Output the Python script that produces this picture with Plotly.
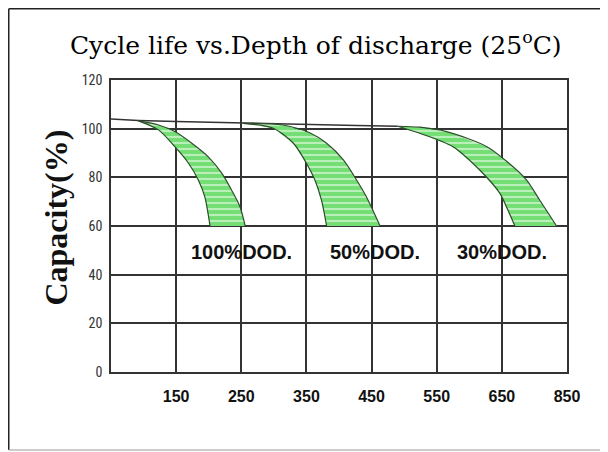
import plotly.graph_objects as go

# ---- data ----
x_tickvals = [150, 250, 350, 450, 550, 650, 750]
x_ticktext = ["150", "250", "350", "450", "550", "650", "850"]
y_tickvals = [0, 20, 40, 60, 80, 100, 120]

flat_x = [50, 92, 150, 253, 330, 427, 490]
flat_y = [104, 103.4, 102.9, 102.2, 101.8, 101.3, 101.0]

b100_outer_x = [92, 123, 148, 174, 199, 220, 235, 248, 256]
b100_outer_y = [103.2, 101.5, 98.8, 94.0, 88.5, 81.7, 74.8, 67.9, 60]
b100_inner_x = [92, 123, 148, 169, 184, 194, 202]
b100_inner_y = [103.2, 99.5, 92.6, 85.8, 78.9, 72.0, 60]

b50_outer_x = [253, 314, 355, 381, 407, 427, 442, 463]
b50_outer_y = [102.2, 101.5, 98.3, 94.0, 87.1, 78.9, 72.0, 60]
b50_inner_x = [253, 299, 330, 350, 363, 373, 381]
b50_inner_y = [102.2, 100.2, 94.0, 85.8, 78.9, 70.7, 60]

b30_outer_x = [490, 524, 565, 627, 660, 688, 708, 734]
b30_outer_y = [101.0, 100.6, 98.8, 92.6, 86.0, 78.9, 70.7, 60]
b30_inner_x = [490, 524, 575, 616, 647, 657, 670]
b30_inner_y = [101.0, 98.1, 92.6, 83.0, 73.4, 67.9, 60]

labels = ["100%DOD.", "50%DOD.", "30%DOD."]
label_x = [251, 455, 650]
label_y = [49.5, 49.5, 49.5]

GREEN = "#74de74"
EDGE = "#2d4d2d"

fig = go.Figure()

fig.add_trace(go.Scatter(x=flat_x, y=flat_y, mode="lines",
                         line=dict(color="#333333", width=1.5), showlegend=False))

for ox, oy, ix, iy in [(b100_outer_x, b100_outer_y, b100_inner_x, b100_inner_y),
                       (b50_outer_x, b50_outer_y, b50_inner_x, b50_inner_y),
                       (b30_outer_x, b30_outer_y, b30_inner_x, b30_inner_y)]:
    px_ = list(ox) + list(ix[::-1])
    py_ = list(oy) + list(iy[::-1])
    fig.add_trace(go.Scatter(
        x=px_, y=py_, mode="lines", fill="toself",
        fillcolor=GREEN,
        fillpattern=dict(shape="-", bgcolor=GREEN, fgcolor="#ffffff",
                         size=6, solidity=0.35),
        line=dict(color="rgba(0,0,0,0)", width=0),
        showlegend=False))
    for ex, ey in [(ox, oy), (ix, iy)]:
        fig.add_trace(go.Scatter(
            x=ex, y=ey, mode="lines",
            line=dict(color=EDGE, width=1.2, shape="spline", smoothing=0.8),
            showlegend=False))

for t, x, y in zip(labels, label_x, label_y):
    fig.add_annotation(x=x, y=y, text=t, showarrow=False,
                       font=dict(family="Liberation Sans, Arial, sans-serif",
                                 size=20, color="#111111", weight="bold"))

fig.add_annotation(xref="paper", yref="paper", x=-0.1206, y=0.529,
                   xanchor="center", yanchor="middle",
                   text="Capacity(%)", textangle=-90, showarrow=False,
                   font=dict(family="Liberation Serif, Times New Roman, serif",
                             size=32, color="#111111", weight="bold"))

# outer frame
fig.add_shape(type="line", xref="paper", yref="paper", x0=-0.2242, x1=1.2,
              y0=1.244, y1=1.244, line=dict(color="#222222", width=1.5))
fig.add_shape(type="line", xref="paper", yref="paper", x0=-0.2242, x1=-0.2242,
              y0=1.244, y1=-0.267, line=dict(color="#222222", width=1.5))
fig.add_shape(type="line", xref="paper", yref="paper", x0=-0.2242, x1=1.2,
              y0=-0.267, y1=-0.267, line=dict(color="#bbbbbb", width=1.5))

fig.update_layout(
    width=600, height=444,
    margin=dict(l=103, r=41, t=72, b=80),
    paper_bgcolor="white", plot_bgcolor="white",
    title=dict(text="Cycle life vs.Depth of discharge (25<sup>o</sup>C)",
               x=0.513, xanchor="center", y=1 - 37 / 444, yanchor="middle",
               font=dict(family="DejaVu Serif, serif", size=25, color="#000000")),
    xaxis=dict(range=[50, 750], tickvals=x_tickvals, ticktext=x_ticktext,
               showgrid=True, gridcolor="#333333", gridwidth=1.5,
               showline=True, linecolor="#333333", linewidth=1.5, mirror=True,
               zeroline=False, ticks="outside", ticklen=9,
               tickcolor="rgba(0,0,0,0)",
               tickfont=dict(family="Liberation Sans, Arial, sans-serif",
                             size=16, color="#111111", weight="bold")),
    yaxis=dict(range=[0, 120], tickvals=y_tickvals,
               showgrid=True, gridcolor="#333333", gridwidth=1.5,
               showline=True, linecolor="#333333", linewidth=1.5, mirror=True,
               zeroline=False, ticks="outside", ticklen=4,
               tickcolor="rgba(0,0,0,0)",
               tickfont=dict(family="Liberation Sans Narrow, Roboto Condensed, Arial Narrow, sans-serif",
                             size=14, color="#333333")),
)

fig.write_html("out.html")
